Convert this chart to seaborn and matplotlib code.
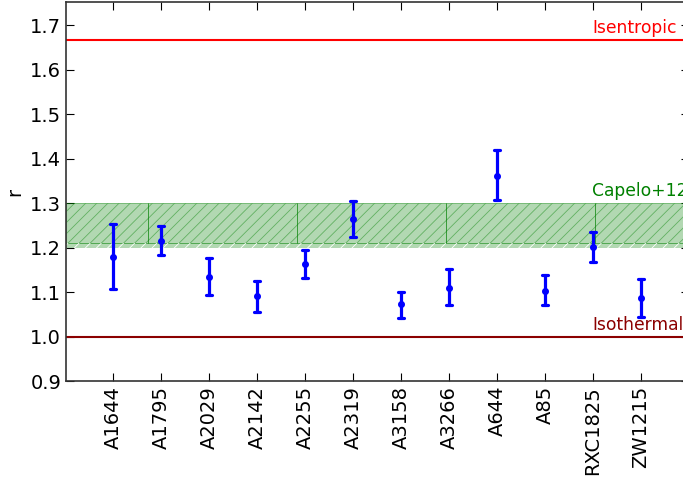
import seaborn as sns
import pandas as pd
import matplotlib.pyplot as plt

clusters = ["A1644", "A1795", "A2029", "A2142", "A2255", "A2319",
            "A3158", "A3266", "A644", "A85", "RXC1825", "ZW1215"]
r_val = [1.178, 1.215, 1.134, 1.092, 1.163, 1.265, 1.072, 1.109, 1.361, 1.103, 1.202, 1.087]
r_low = [1.107, 1.183, 1.093, 1.056, 1.131, 1.223, 1.041, 1.071, 1.306, 1.071, 1.167, 1.043]
r_high = [1.254, 1.248, 1.177, 1.125, 1.194, 1.305, 1.099, 1.152, 1.419, 1.139, 1.236, 1.129]

isentropic = 5.0 / 3.0
isothermal = 1.0
capelo_lo, capelo_mid, capelo_hi = 1.20, 1.21, 1.30
band_edges = [-0.98, 0.73, 3.83, 6.94, 10.04, 12.0]

sns.set_style("ticks")
plt.rcParams["font.family"] = ["DejaVu Sans"]
plt.rcParams["xtick.direction"] = "in"
plt.rcParams["ytick.direction"] = "in"
plt.rcParams["xtick.top"] = True
plt.rcParams["ytick.right"] = True
plt.rcParams["hatch.linewidth"] = 0.6
for k in ["text.color", "axes.labelcolor", "xtick.color", "ytick.color", "axes.edgecolor"]:
    plt.rcParams[k] = "black"

# long form: low / value / high per cluster -> median + full range = value + error bar
rows = []
for c, lo, v, hi in zip(clusters, r_low, r_val, r_high):
    for y in (lo, v, hi):
        rows.append({"cluster": c, "r": y})
df = pd.DataFrame(rows)

fig = plt.figure(figsize=(6.83, 4.9), dpi=100)
ax = fig.add_axes([66 / 683, 1 - 381 / 490, 623 / 683, 379 / 490])

for a, b in zip(band_edges[:-1], band_edges[1:]):
    ax.fill_between([a, b], capelo_mid, capelo_hi, facecolor=(0, 0.5, 0, 0.3),
                    edgecolor=(0, 0.5, 0, 0.45), hatch="///", linewidth=0.7, zorder=1)
    ax.fill_between([a, b], capelo_lo, capelo_mid, facecolor=(0, 0.5, 0, 0.3),
                    edgecolor="none", hatch="///", linewidth=0, zorder=1)

ax.axhline(isentropic, color="red", lw=1.5, zorder=2)
ax.axhline(isothermal, color="darkred", lw=1.5, zorder=2)

sns.pointplot(data=df, x="cluster", y="r", order=clusters, estimator="median",
              errorbar=("pi", 100), color="blue", linestyle="none", marker="o",
              markersize=3, capsize=0.12, err_kws={"linewidth": 2.3}, ax=ax)

ax.text(9.98, isentropic + 0.006, "Isentropic", color="red", fontsize=12.3, va="bottom")
ax.text(9.98, capelo_hi + 0.006, "Capelo+12", color="green", fontsize=12.3, va="bottom")
ax.text(9.98, isothermal + 0.006, "Isothermal", color="darkred", fontsize=12.3, va="bottom")

ax.set_xlim(-0.98, 12.0)
ax.set_ylim(0.9, 1.752)
ax.set_yticks([0.9, 1.0, 1.1, 1.2, 1.3, 1.4, 1.5, 1.6, 1.7])
ax.set_xlabel("")
ax.set_ylabel("r", fontsize=14)
ax.tick_params(axis="x", labelrotation=90, labelsize=14, length=6)
ax.tick_params(axis="y", labelsize=14, length=6)
for s in ax.spines.values():
    s.set_linewidth(1.2)
    s.set_color("0.2")

fig.savefig("out.png", dpi=100)
